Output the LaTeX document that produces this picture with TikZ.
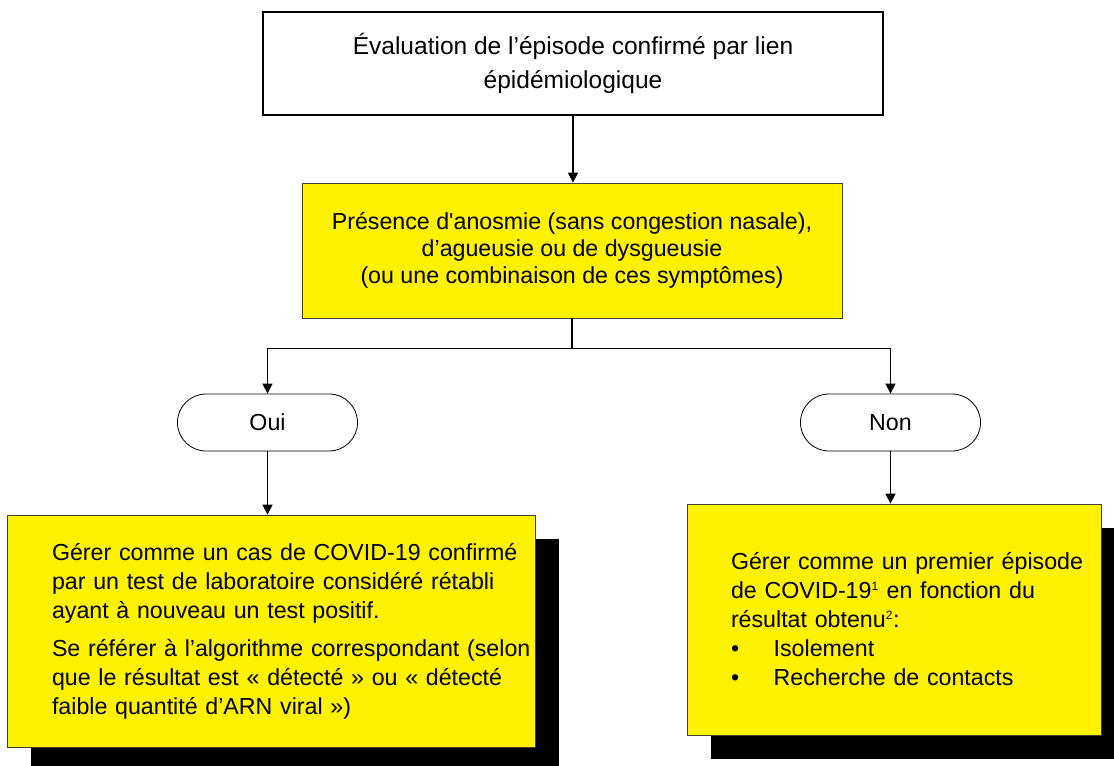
\documentclass[tikz,border=0pt]{standalone}
\usepackage{fontspec}
\setmainfont{Liberation Sans}
\usetikzlibrary{arrows.meta,
shapes.misc,
shadows}
\newcommand*{\renvoi}[1]{\textsuperscript{\fontsize{9}{9}\selectfont #1}}

\begin{document}
\begin{tikzpicture} [x=0.75pt,
    y=-0.75pt,
    >={Triangle[length=7.5pt, width=7.5pt]},
    line width=1.1pt,
    every node/.style={font=\fontsize{17.4}{21.75}\selectfont},
    main node/.style={rectangle, draw, align=center, inner sep=0pt},
    yellow node/.style={main node, fill=yellow, draw=black!75,
        line width=0.6pt},
    answer node/.style={rounded rectangle, draw, line width=0.6pt,
        minimum width=141.75pt, minimum height=42.75pt},
    action node/.style={yellow node, align=left, inner xsep=1pt,
        drop shadow={shadow xshift=18pt, shadow yshift=-18pt,
          fill=black, opacity=1}}
  ]

  \useasboundingbox (0,0) rectangle (1114,765);

  \node [main node,
    line width=1.5pt,
    minimum width=465pt,
    minimum height=77.25pt,
    font=\fontsize{18.4}{25.5}\selectfont
  ] (evaluation) at (573,63.5) {Évaluation de l’épisode confirmé par lien\\
      épidémiologique};

  \node [yellow node,
    minimum width=405pt,
    minimum height=101.25pt,
    font=\fontsize{17.4}{20.25}\selectfont
  ] (symptomes) at (572,250.5) {Présence d\textquotesingle anosmie (sans congestion nasale),\\
      d’agueusie ou de dysgueusie\\
      (ou une combinaison de ces symptômes)};

  \draw [->] (evaluation.south) -- (evaluation.south |- symptomes.north);

  \node [answer node] (oui) at (267.5,422.5) {Oui};
  \node [answer node] (non) at (890.5,422.5) {Non};

  \draw (symptomes.south) -- ++(0,30) coordinate (branch);
  \draw [->] (branch) -| (oui.north);
  \draw [->] (branch) -| (non.north);

  \node [action node,
    minimum width=396pt,
    minimum height=174pt,
    text width=394pt
  ] (gauche) at (271,631) {\leftskip=32.75pt
      Gérer comme un cas de COVID-19 confirmé\\
      par un test de laboratoire considéré rétabli\\
      ayant à nouveau un test positif.\\[6.75pt]
      Se référer à l’algorithme correspondant (selon\\
      que le résultat est « détecté » ou « détecté\\
      faible quantité d’ARN viral »)\par};

  \node [action node,
    minimum width=310.5pt,
    minimum height=173.25pt,
    text width=308.5pt
  ] (droite) at (894,619.5) {\leftskip=32pt
      Gérer comme un premier épisode\\
      de COVID-19\renvoi{1} en fonction du\\
      résultat obtenu\renvoi{2}:\\
      \makebox[32pt][l]{\textbullet}Isolement\\
      \makebox[32pt][l]{\textbullet}Recherche de contacts\par};

  \draw [->] (oui.south) -- (oui.south |- gauche.north);
  \draw [->] (non.south) -- (non.south |- droite.north);

\end{tikzpicture}
\end{document}
